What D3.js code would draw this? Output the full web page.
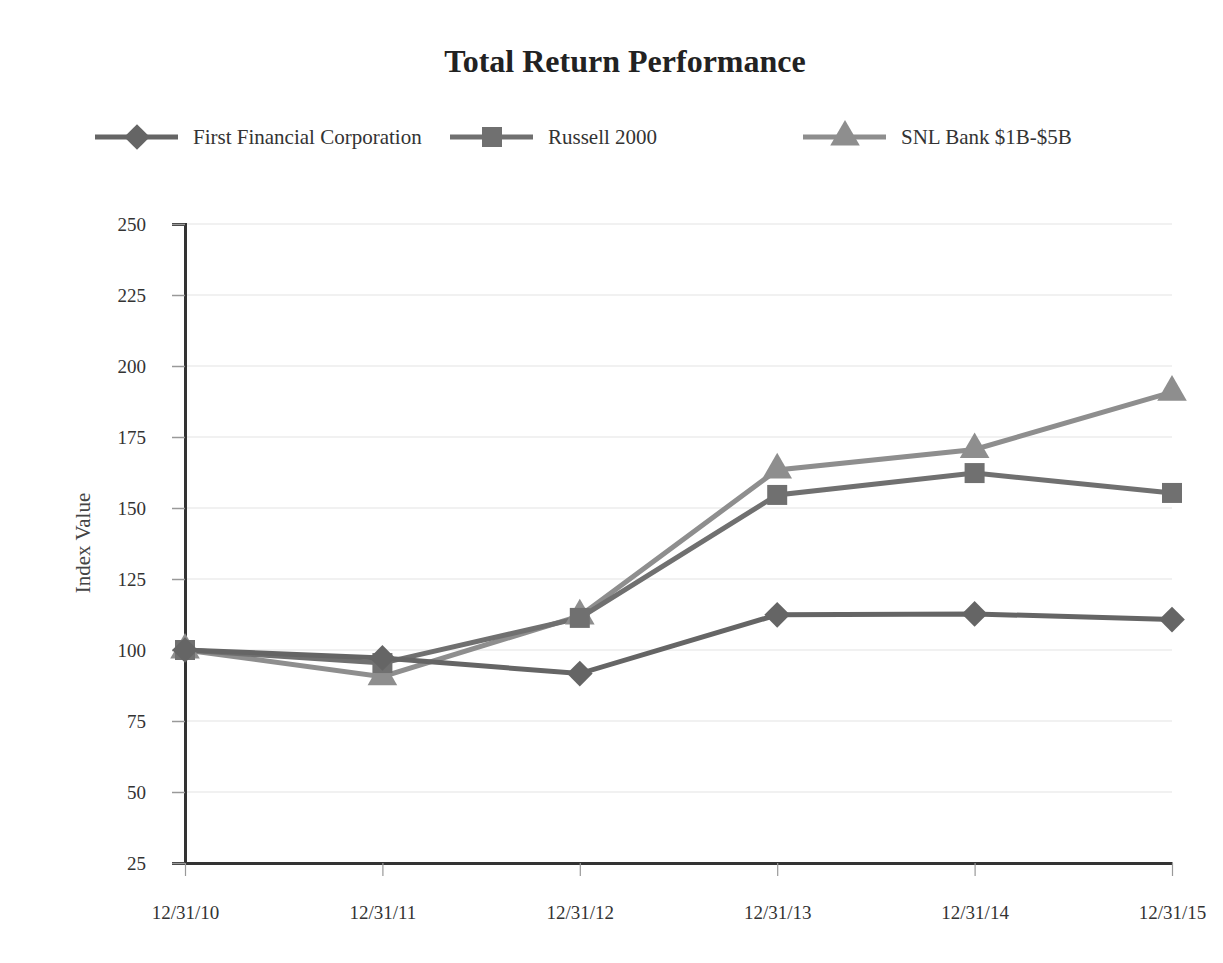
<!DOCTYPE html>
<html>
<head>
<meta charset="utf-8">
<script src="https://cdn.jsdelivr.net/npm/d3@7"></script>
<style>
  body { margin: 0; background: #ffffff; }
  svg text { font-family: "Liberation Serif", "DejaVu Serif", serif; }
</style>
</head>
<body>
<div id="chart"></div>
<script>
const FRAME_WIDTH = 1223;
const FRAME_HEIGHT = 963;
const MARGINS = {left: 185, right: 51, top: 224, bottom: 100};

const VIS_WIDTH = FRAME_WIDTH - MARGINS.left - MARGINS.right;
const VIS_HEIGHT = FRAME_HEIGHT - MARGINS.top - MARGINS.bottom;

// data
const dates = ["12/31/10", "12/31/11", "12/31/12", "12/31/13", "12/31/14", "12/31/15"];
const ffcValues = [100.0, 97.2, 91.7, 112.4, 112.7, 110.7];
const russellValues = [100.0, 95.4, 111.3, 154.6, 162.3, 155.3];
const snlValues = [100.0, 90.6, 112.0, 163.4, 170.6, 190.8];
const yTicks = [25, 50, 75, 100, 125, 150, 175, 200, 225, 250];

const seriesNames = ["First Financial Corporation", "Russell 2000", "SNL Bank $1B-$5B"];
const seriesColors = ["#656565", "#707070", "#8e8e8e"];
const seriesSymbols = ["diamond", "square", "triangle"];

const series = [ffcValues, russellValues, snlValues].map((vals, i) => ({
  name: seriesNames[i],
  color: seriesColors[i],
  symbol: seriesSymbols[i],
  values: vals.map((v, j) => ({date: dates[j], value: v}))
}));

// marker shapes: diamond is a square turned 45 degrees
function markerPath(type) {
  if (type === "square") return d3.symbol().type(d3.symbolSquare).size(400)();
  if (type === "triangle") return d3.symbol().type(d3.symbolTriangle).size(380)();
  return d3.symbol().type(d3.symbolSquare).size(330)();
}
function markerRotate(type) {
  return type === "diamond" ? " rotate(45)" : "";
}

const FRAME = d3.select("#chart")
  .append("svg")
    .attr("width", FRAME_WIDTH)
    .attr("height", FRAME_HEIGHT);

const X_SCALE = d3.scalePoint()
  .domain(dates)
  .range([0, VIS_WIDTH]);

const Y_SCALE = d3.scaleLinear()
  .domain([25, 250])
  .range([VIS_HEIGHT, 0]);

const g = FRAME.append("g")
  .attr("transform", "translate(" + MARGINS.left + "," + MARGINS.top + ")");

// gridlines
g.append("g")
  .selectAll("line")
  .data(yTicks.slice(1))
  .enter()
  .append("line")
    .attr("x1", 0)
    .attr("x2", VIS_WIDTH)
    .attr("y1", d => Y_SCALE(d))
    .attr("y2", d => Y_SCALE(d))
    .attr("stroke", "#e4e4e4")
    .attr("stroke-width", 1.2);

// y axis
const yAxis = g.append("g")
  .call(d3.axisLeft(Y_SCALE).tickValues(yTicks).tickSize(13).tickPadding(26));
yAxis.select(".domain").attr("stroke", "#333").attr("stroke-width", 3);
yAxis.selectAll(".tick line").attr("stroke", "#999").attr("stroke-width", 1.5);
yAxis.selectAll("text")
  .attr("fill", "#333")
  .style("font-size", "19px")
  .style("font-family", "Liberation Serif, serif");

// x axis
const xAxis = g.append("g")
  .attr("transform", "translate(0," + VIS_HEIGHT + ")")
  .call(d3.axisBottom(X_SCALE).tickSizeInner(13).tickSizeOuter(0).tickPadding(30));
xAxis.select(".domain").attr("stroke", "#333").attr("stroke-width", 3);
xAxis.selectAll(".tick line").attr("stroke", "#999").attr("stroke-width", 1.2);
xAxis.selectAll("text")
  .attr("fill", "#333")
  .style("font-size", "19px")
  .style("font-family", "Liberation Serif, serif");

// lines
const line = d3.line()
  .x(d => X_SCALE(d.date))
  .y(d => Y_SCALE(d.value));

// draw from back: SNL, Russell, FFC
[2, 1, 0].forEach(i => {
  const s = series[i];
  g.append("path")
    .datum(s.values)
    .attr("fill", "none")
    .attr("stroke", s.color)
    .attr("stroke-width", 5)
    .attr("d", line);
});

[2, 1, 0].forEach(i => {
  const s = series[i];
  g.selectAll(".pt" + i)
    .data(s.values)
    .enter()
    .append("path")
      .attr("class", "pt" + i)
      .attr("transform", d => "translate(" + X_SCALE(d.date) + "," + Y_SCALE(d.value) + ")" + markerRotate(s.symbol))
      .attr("d", markerPath(s.symbol))
      .attr("fill", s.color);
});

// title
FRAME.append("text")
  .attr("x", 625)
  .attr("y", 72)
  .attr("text-anchor", "middle")
  .style("font-size", "32px")
  .style("font-weight", "bold")
  .attr("fill", "#222")
  .text("Total Return Performance");

// y label
FRAME.append("text")
  .attr("transform", "translate(90,543) rotate(-90)")
  .attr("text-anchor", "middle")
  .style("font-size", "21px")
  .attr("fill", "#444")
  .text("Index Value");

// legend
const legendX = [95, 450, 803];
series.forEach((s, i) => {
  const lg = FRAME.append("g")
    .attr("transform", "translate(" + legendX[i] + ",137)");
  lg.append("line")
    .attr("x1", 0).attr("x2", 83)
    .attr("stroke", s.color)
    .attr("stroke-width", 5);
  lg.append("path")
    .attr("transform", "translate(42,0)" + markerRotate(s.symbol))
    .attr("d", markerPath(s.symbol))
    .attr("fill", s.color);
  lg.append("text")
    .attr("x", 98)
    .attr("y", 7)
    .style("font-size", "21px")
    .attr("fill", "#333")
    .text(s.name);
});
</script>
</body>
</html>
